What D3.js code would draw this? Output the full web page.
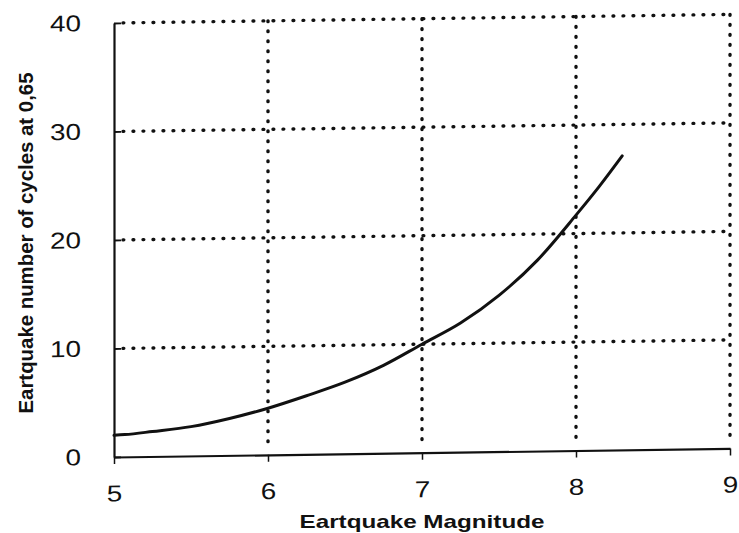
<!DOCTYPE html>
<html>
<head>
<meta charset="utf-8">
<script src="https://cdn.jsdelivr.net/npm/d3@7"></script>
<style>
  body { margin: 0; background: #fff; }
  svg { display: block; }
  .grid line { stroke: #111; stroke-width: 3.4; stroke-dasharray: 0.8,9.2; stroke-linecap: round; }
  .tick text { font-family: "Liberation Sans", Arial, sans-serif; font-size: 23px; fill: #111; }
</style>
</head>
<body>
<div class="chart"></div>
<script>
const FRAME_WIDTH = 739;
const FRAME_HEIGHT = 533;
const PLOT = {left: 114, right: 730, top: 23, bottom: 457};
const SKEW = -0.8; // the scan is slightly sheared

// data
const magnitude = [5, 5.07, 5.25, 5.5, 5.75, 6, 6.25, 6.5, 6.75, 7, 7.25, 7.5, 7.75, 8, 8.15, 8.3];
const cycles    = [2.0, 2.05, 2.3, 2.7, 3.4, 4.3, 5.4, 6.6, 8.1, 10.0, 11.9, 14.4, 17.6, 21.7, 24.3, 27.1];
const xTicks = [5, 6, 7, 8, 9];
const yTicks = [0, 10, 20, 30, 40];

const FRAME = d3.select(".chart")
                .append("svg")
                .attr("width", FRAME_WIDTH)
                .attr("height", FRAME_HEIGHT);

const X_SCALE = d3.scaleLinear().domain([5, 9]).range([PLOT.left, PLOT.right]);
const Y_SCALE = d3.scaleLinear().domain([0, 40]).range([PLOT.bottom, PLOT.top]);

const PLOT_G = FRAME.append("g")
    .attr("transform", "translate(" + PLOT.left + "," + PLOT.bottom + ") skewY(" + SKEW + ") translate(" + (-PLOT.left) + "," + (-PLOT.bottom) + ")");

// dotted grid
const GRID = PLOT_G.append("g").attr("class", "grid");
GRID.selectAll(".h")
    .data(yTicks.slice(1))
    .enter().append("line")
    .attr("x1", X_SCALE(5) + 9).attr("x2", X_SCALE(9))
    .attr("y1", d => Y_SCALE(d)).attr("y2", d => Y_SCALE(d));
GRID.selectAll(".v")
    .data(xTicks.slice(1))
    .enter().append("line")
    .attr("x1", d => X_SCALE(d)).attr("x2", d => X_SCALE(d))
    .attr("y1", Y_SCALE(40)).attr("y2", Y_SCALE(0) - 6);

// x axis
const X_AXIS = PLOT_G.append("g")
    .attr("transform", "translate(0," + PLOT.bottom + ")")
    .call(d3.axisBottom(X_SCALE).tickValues(xTicks).tickFormat(d3.format("d"))
            .tickSizeInner(7).tickSizeOuter(0).tickPadding(21));
X_AXIS.select(".domain").attr("stroke", "#111").attr("stroke-width", 2.2);
X_AXIS.selectAll(".tick line").attr("stroke", "#111").attr("stroke-width", 1.5);
X_AXIS.selectAll(".tick text").attr("textLength", 15.5).attr("lengthAdjust", "spacingAndGlyphs");

// y axis
const Y_AXIS = PLOT_G.append("g")
    .attr("transform", "translate(" + PLOT.left + ",0)")
    .call(d3.axisLeft(Y_SCALE).tickValues(yTicks).tickFormat(d3.format("d"))
            .tickSizeInner(-7).tickSizeOuter(0).tickPadding(33));
Y_AXIS.select(".domain").attr("stroke", "#111").attr("stroke-width", 2.2);
Y_AXIS.selectAll(".tick line").attr("stroke", "#111").attr("stroke-width", 1.8);
Y_AXIS.selectAll(".tick text")
    .attr("textLength", d => String(d).length * 15.5)
    .attr("lengthAdjust", "spacingAndGlyphs");

// curve
const LINE = d3.line()
    .x((d, i) => X_SCALE(magnitude[i]))
    .y(d => Y_SCALE(d))
    .curve(d3.curveMonotoneX);

PLOT_G.append("path")
    .datum(cycles)
    .attr("d", LINE)
    .attr("fill", "none")
    .attr("stroke", "#111")
    .attr("stroke-width", 3)
    .attr("stroke-linejoin", "round")
    .attr("stroke-linecap", "round");

// axis titles
FRAME.append("text")
    .attr("x", 422)
    .attr("y", 528)
    .attr("text-anchor", "middle")
    .attr("font-family", "Liberation Sans, Arial, sans-serif")
    .attr("font-weight", "bold")
    .attr("font-size", "19px")
    .attr("fill", "#111")
    .attr("textLength", 245)
    .attr("lengthAdjust", "spacingAndGlyphs")
    .text("Eartquake Magnitude");

FRAME.append("text")
    .attr("transform", "translate(33,243) rotate(-90)")
    .attr("text-anchor", "middle")
    .attr("font-family", "Liberation Sans Narrow, Arial Narrow, Liberation Sans, sans-serif")
    .attr("font-weight", "bold")
    .attr("font-size", "21px")
    .attr("fill", "#111")
    .attr("textLength", 341)
    .attr("lengthAdjust", "spacingAndGlyphs")
    .text("Eartquake number of cycles at 0,65");
</script>
</body>
</html>
